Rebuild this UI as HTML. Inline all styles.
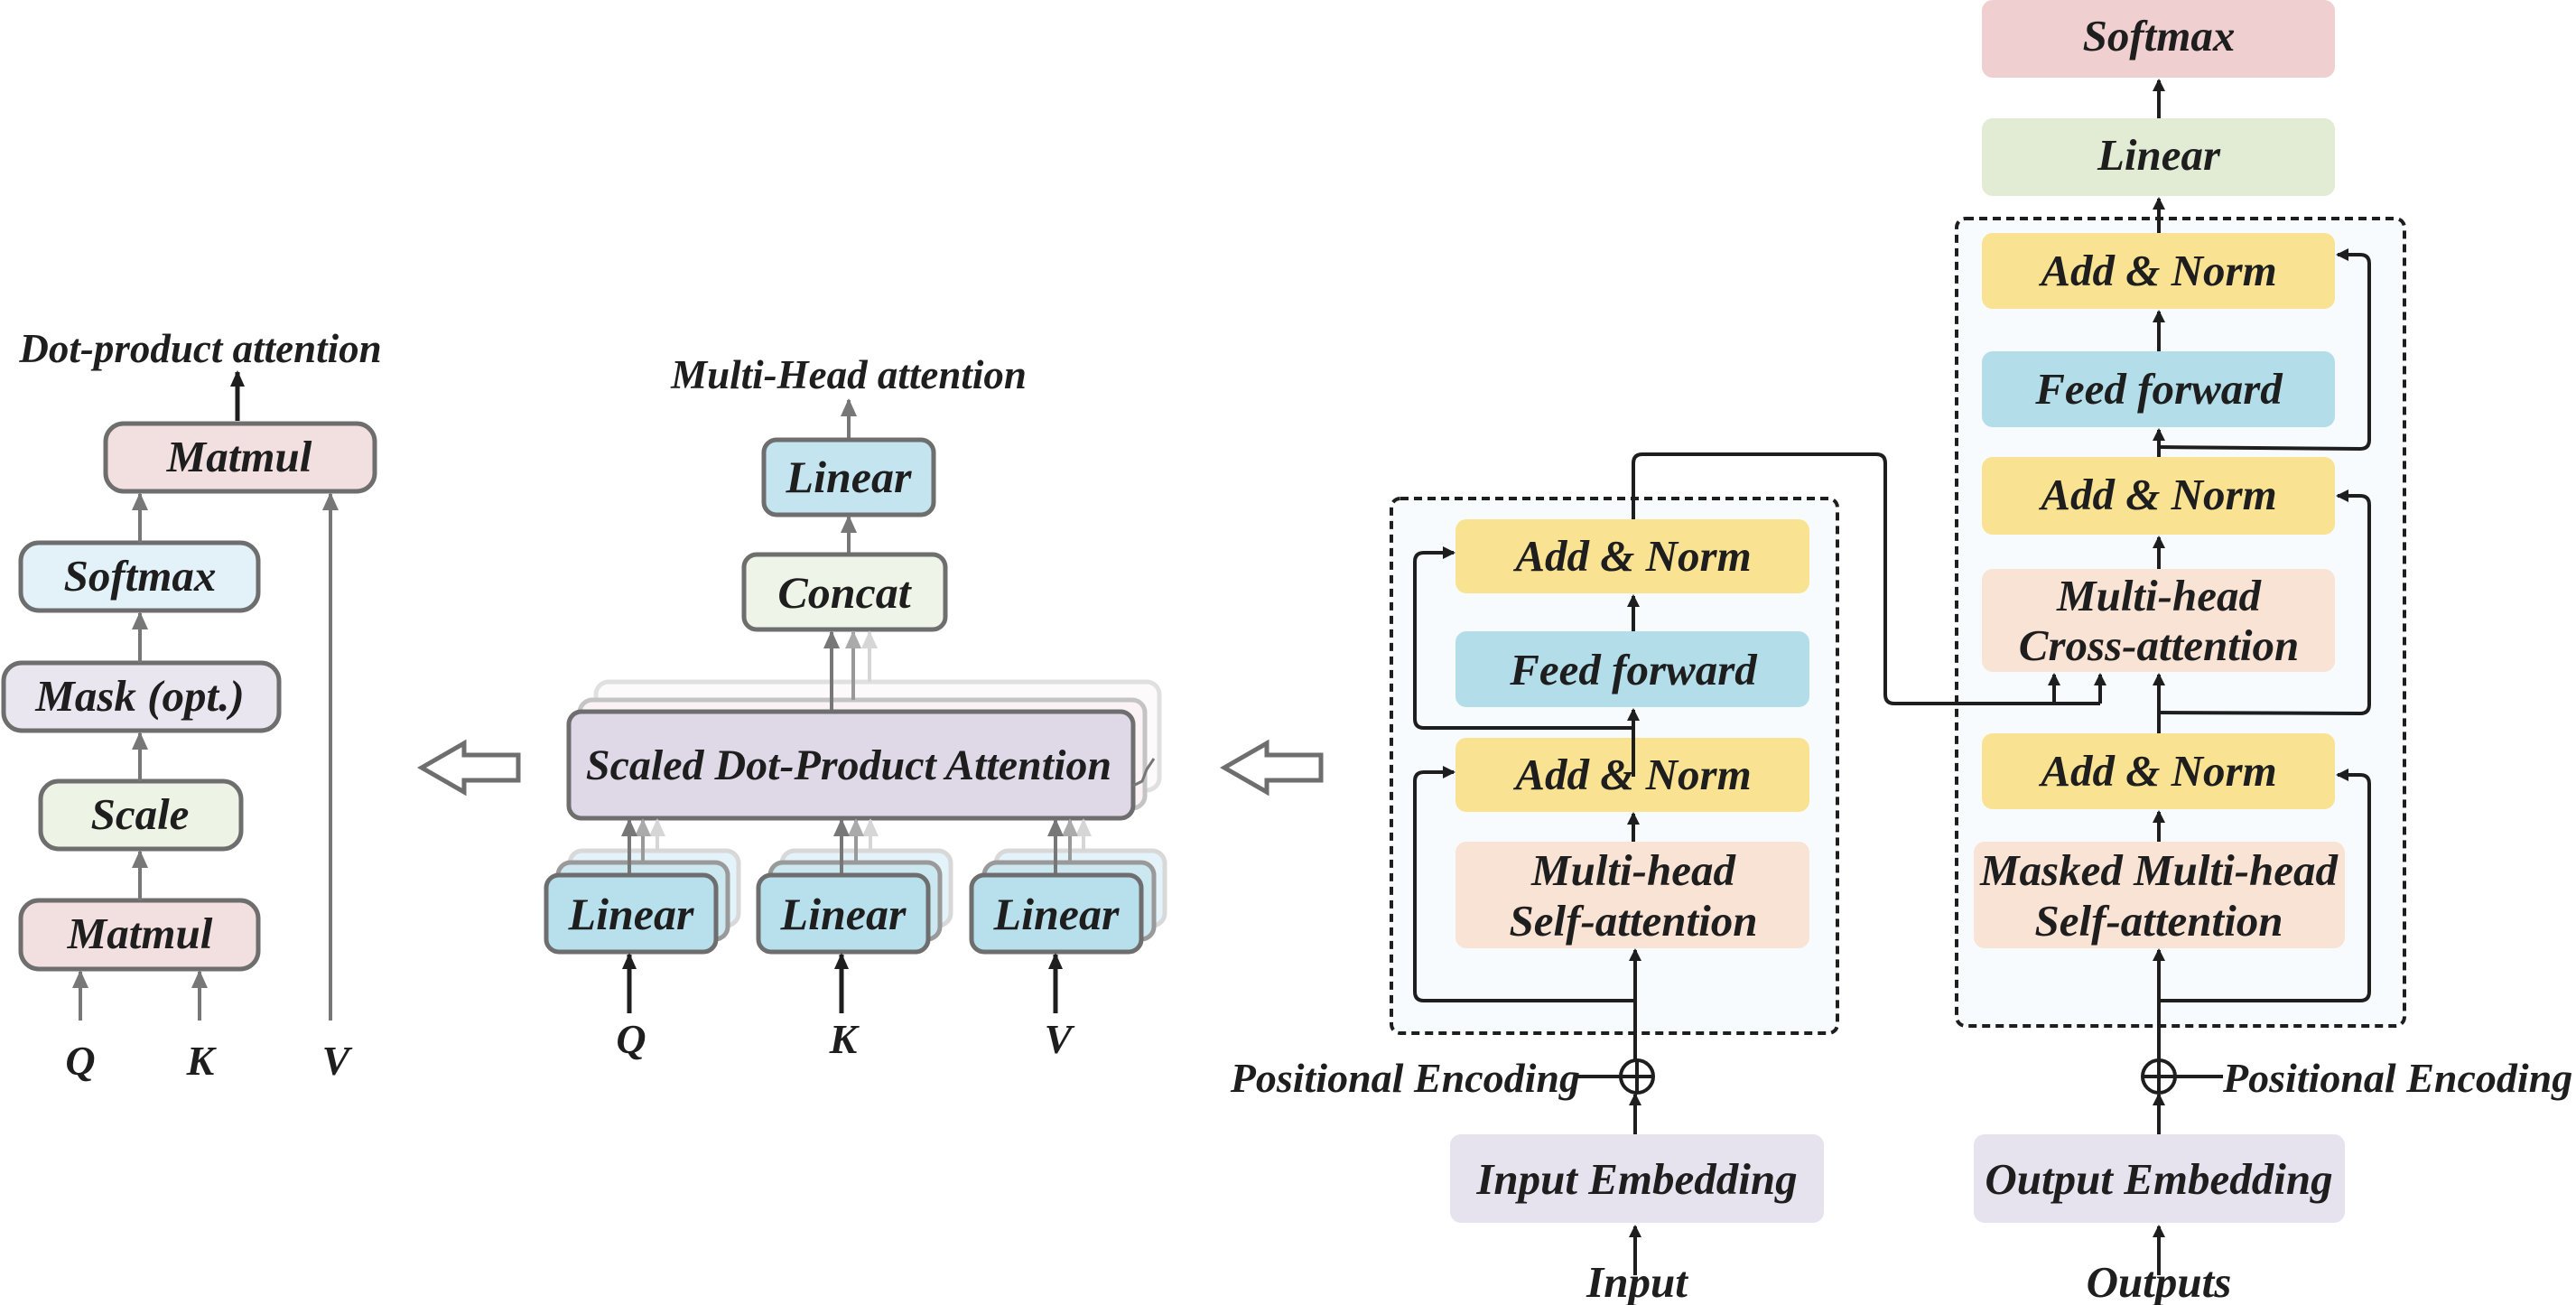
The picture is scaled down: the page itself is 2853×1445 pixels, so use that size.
<!DOCTYPE html>
<html><head><meta charset="utf-8"><style>
html,body{margin:0;padding:0;background:#fff;}
svg{display:block;}
text{font-family:"Liberation Serif",serif;font-weight:bold;font-style:italic;fill:#1e1e1e;text-anchor:middle;}
</style></head><body>
<svg width="2853" height="1445" viewBox="0 0 2853 1445" xmlns="http://www.w3.org/2000/svg">
<defs>
<marker id="ab" markerWidth="14" markerHeight="14" refX="12" refY="7" orient="auto" markerUnits="userSpaceOnUse" viewBox="0 0 14 14"><path d="M0,0 L14,7 L0,14 z" fill="#1e1e1e"/></marker>
<marker id="abk" markerWidth="18" markerHeight="18" refX="16" refY="9" orient="auto" markerUnits="userSpaceOnUse" viewBox="0 0 18 18"><path d="M0,1 L18,9 L0,17 z" fill="#1e1e1e"/></marker>
<marker id="ag" markerWidth="20" markerHeight="20" refX="18" refY="10" orient="auto" markerUnits="userSpaceOnUse" viewBox="0 0 20 20"><path d="M0,1 L20,10 L0,19 z" fill="#777"/></marker>
<marker id="agl" markerWidth="20" markerHeight="20" refX="18" refY="10" orient="auto" markerUnits="userSpaceOnUse" viewBox="0 0 20 20"><path d="M0,1 L20,10 L0,19 z" fill="#aaa"/></marker>
<marker id="agx" markerWidth="20" markerHeight="20" refX="18" refY="10" orient="auto" markerUnits="userSpaceOnUse" viewBox="0 0 20 20"><path d="M0,1 L20,10 L0,19 z" fill="#d6d6d6"/></marker>
</defs>

<!-- LEFT PANEL -->
<text x="222" y="401" font-size="45">Dot-product attention</text>
<line x1="263" y1="466" x2="263" y2="412" stroke="#1e1e1e" stroke-width="5" marker-end="url(#abk)"/>
<g stroke="#6e6e6e" stroke-width="5">
<rect x="117" y="469" width="298" height="75" rx="20" fill="#f2dfdf"/>
<rect x="23" y="601" width="263" height="75" rx="20" fill="#e3f2f9"/>
<rect x="4" y="734" width="305" height="75" rx="20" fill="#e9e6ef"/>
<rect x="45" y="865" width="222" height="75" rx="20" fill="#edf3e5"/>
<rect x="23" y="997" width="263" height="76" rx="20" fill="#f2dfdf"/>
</g>
<g stroke="#777" stroke-width="4" fill="none">
<line x1="155" y1="601" x2="155" y2="547" marker-end="url(#ag)"/>
<line x1="155" y1="734" x2="155" y2="679" marker-end="url(#ag)"/>
<line x1="155" y1="865" x2="155" y2="812" marker-end="url(#ag)"/>
<line x1="155" y1="997" x2="155" y2="943" marker-end="url(#ag)"/>
<line x1="89" y1="1130" x2="89" y2="1076" marker-end="url(#ag)"/>
<line x1="221" y1="1130" x2="221" y2="1076" marker-end="url(#ag)"/>
<line x1="366" y1="1130" x2="366" y2="547" marker-end="url(#ag)"/>
</g>
<text x="265" y="522" font-size="49">Matmul</text>
<text x="155" y="654" font-size="49">Softmax</text>
<text x="155" y="787" font-size="49">Mask (opt.)</text>
<text x="155" y="918" font-size="49">Scale</text>
<text x="155" y="1050" font-size="49">Matmul</text>
<text x="89" y="1190" font-size="46">Q</text>
<text x="222" y="1190" font-size="46">K</text>
<text x="372" y="1190" font-size="46">V</text>

<!-- hollow arrows -->
<path d="M467,850 L514,823 L514,836 L574,836 L574,864 L514,864 L514,877 Z" fill="#fff" stroke="#6e6e6e" stroke-width="5"/>
<path d="M1356,850 L1403,823 L1403,836 L1463,836 L1463,864 L1403,864 L1403,877 Z" fill="#fff" stroke="#6e6e6e" stroke-width="5"/>

<!-- MIDDLE PANEL -->
<text x="940" y="430" font-size="45">Multi-Head attention</text>
<line x1="940" y1="486" x2="940" y2="443" stroke="#777" stroke-width="4" marker-end="url(#ag)"/>
<rect x="846" y="487" width="188" height="83" rx="14" fill="#c4e4f0" stroke="#6e6e6e" stroke-width="5"/>
<text x="940" y="545" font-size="50">Linear</text>
<line x1="940" y1="613" x2="940" y2="572" stroke="#777" stroke-width="4" marker-end="url(#ag)"/>
<rect x="824" y="614" width="223" height="83" rx="14" fill="#eef4e7" stroke="#6e6e6e" stroke-width="5"/>
<text x="935" y="673" font-size="50">Concat</text>
<rect x="660" y="755" width="624" height="120" rx="14" fill="#fdfafb" stroke="#e0e0e0" stroke-width="5"/>
<rect x="642" y="775" width="626" height="120" rx="14" fill="#faf2f4" stroke="#c4c4c4" stroke-width="5"/>
<line x1="963" y1="755" x2="963" y2="700" stroke="#d6d6d6" stroke-width="4" marker-end="url(#agx)"/>
<line x1="945" y1="775" x2="945" y2="700" stroke="#999" stroke-width="4" marker-end="url(#agl)"/>
<line x1="921" y1="788" x2="921" y2="700" stroke="#777" stroke-width="4" marker-end="url(#ag)"/>
<rect x="630" y="788" width="625" height="118" rx="14" fill="#dfd9e7" stroke="#6e6e6e" stroke-width="5"/>
<path d="M1255,870 L1265,865 L1270,852 L1278,840" stroke="#777" stroke-width="3" fill="none"/>
<text x="940" y="863" font-size="48">Scaled Dot-Product Attention</text>
<g stroke-width="5">
<rect x="631" y="942" width="187" height="83" rx="14" fill="#e3f3f9" stroke="#d8d8d8"/>
<rect x="618" y="955" width="188" height="85" rx="14" fill="#cbe7f0" stroke="#999"/>
<rect x="866" y="942" width="187" height="83" rx="14" fill="#e3f3f9" stroke="#d8d8d8"/>
<rect x="853" y="955" width="188" height="85" rx="14" fill="#cbe7f0" stroke="#999"/>
<rect x="1103" y="942" width="187" height="83" rx="14" fill="#e3f3f9" stroke="#d8d8d8"/>
<rect x="1090" y="955" width="188" height="85" rx="14" fill="#cbe7f0" stroke="#999"/>
</g>
<g stroke-width="4">
<line x1="728" y1="942" x2="728" y2="908" stroke="#d6d6d6" marker-end="url(#agx)"/>
<line x1="712" y1="955" x2="712" y2="908" stroke="#999" marker-end="url(#agl)"/>
<line x1="697" y1="969" x2="697" y2="908" stroke="#777" marker-end="url(#ag)"/>
<line x1="964" y1="942" x2="964" y2="908" stroke="#d6d6d6" marker-end="url(#agx)"/>
<line x1="948" y1="955" x2="948" y2="908" stroke="#999" marker-end="url(#agl)"/>
<line x1="932" y1="969" x2="932" y2="908" stroke="#777" marker-end="url(#ag)"/>
<line x1="1200" y1="942" x2="1200" y2="908" stroke="#d6d6d6" marker-end="url(#agx)"/>
<line x1="1185" y1="955" x2="1185" y2="908" stroke="#999" marker-end="url(#agl)"/>
<line x1="1169" y1="969" x2="1169" y2="908" stroke="#777" marker-end="url(#ag)"/>
</g>
<g stroke="#6e6e6e" stroke-width="5" fill="#b8dfec">
<rect x="605" y="969" width="188" height="85" rx="14"/>
<rect x="840" y="969" width="188" height="85" rx="14"/>
<rect x="1076" y="969" width="188" height="85" rx="14"/>
</g>
<text x="699" y="1029" font-size="50">Linear</text>
<text x="934" y="1029" font-size="50">Linear</text>
<text x="1170" y="1029" font-size="50">Linear</text>
<g stroke-width="5">
<line x1="697" y1="1122" x2="697" y2="1057" stroke="#1e1e1e" marker-end="url(#abk)"/>
<line x1="932" y1="1122" x2="932" y2="1057" stroke="#1e1e1e" marker-end="url(#abk)"/>
<line x1="1169" y1="1122" x2="1169" y2="1057" stroke="#1e1e1e" marker-end="url(#abk)"/>
</g>
<text x="699" y="1166" font-size="46">Q</text>
<text x="934" y="1166" font-size="46">K</text>
<text x="1172" y="1166" font-size="46">V</text>

<!-- ENCODER / DECODER frames -->
<rect x="1541" y="552" width="494" height="592" rx="10" fill="#f7fbfd" stroke="#1e1e1e" stroke-width="4" stroke-dasharray="9,6"/>
<rect x="2167" y="242" width="496" height="894" rx="10" fill="#f7fbfd" stroke="#1e1e1e" stroke-width="4" stroke-dasharray="9,6"/>

<g>
<rect x="1612" y="575" width="392" height="82" rx="12" fill="#f9e291"/>
<rect x="1612" y="699" width="392" height="84" rx="12" fill="#b2dde9"/>
<rect x="1612" y="817" width="392" height="82" rx="12" fill="#f9e291"/>
<rect x="1612" y="932" width="392" height="118" rx="12" fill="#f9e3d4"/>
<rect x="1606" y="1256" width="414" height="98" rx="12" fill="#e7e3ee"/>
<rect x="2195" y="0" width="391" height="86" rx="12" fill="#efcfcf"/>
<rect x="2195" y="131" width="391" height="86" rx="12" fill="#e2ebd3"/>
<rect x="2195" y="258" width="391" height="84" rx="12" fill="#f9e291"/>
<rect x="2195" y="389" width="391" height="84" rx="12" fill="#b2dde9"/>
<rect x="2195" y="506" width="391" height="86" rx="12" fill="#f9e291"/>
<rect x="2195" y="630" width="391" height="114" rx="12" fill="#f9e3d4"/>
<rect x="2195" y="812" width="391" height="84" rx="12" fill="#f9e291"/>
<rect x="2186" y="932" width="411" height="118" rx="12" fill="#f9e3d4"/>
<rect x="2186" y="1256" width="411" height="98" rx="12" fill="#e7e3ee"/>
</g>

<g stroke="#1e1e1e" stroke-width="4" fill="none">
<line x1="1811" y1="1412" x2="1811" y2="1358" marker-end="url(#ab)"/>
<line x1="1811" y1="1256" x2="1811" y2="1212" marker-end="url(#ab)"/>
<line x1="1811" y1="1174" x2="1811" y2="1052" marker-end="url(#ab)"/>
<line x1="1809" y1="932" x2="1809" y2="901" marker-end="url(#ab)"/>
<line x1="1809" y1="860" x2="1809" y2="786" marker-end="url(#ab)"/>
<line x1="1809" y1="699" x2="1809" y2="660" marker-end="url(#ab)"/>
<path d="M1811,1108 L1577,1108 Q1567,1108 1567,1098 L1567,865 Q1567,855 1577,855 L1610,855" marker-end="url(#ab)"/>
<path d="M1809,806 L1577,806 Q1567,806 1567,796 L1567,622 Q1567,612 1577,612 L1610,612" marker-end="url(#ab)"/>
<circle cx="1813" cy="1192" r="18"/>
<line x1="1795" y1="1192" x2="1831" y2="1192"/>
<line x1="1813" y1="1174" x2="1813" y2="1210"/>
<line x1="1745" y1="1192" x2="1795" y2="1192"/>
<path d="M1809,575 L1809,513 Q1809,503 1819,503 L2078,503 Q2088,503 2088,513 L2088,769 Q2088,779 2098,779 L2326,779"/>
<line x1="2275" y1="779" x2="2275" y2="747" marker-end="url(#ab)"/>
<line x1="2326" y1="779" x2="2326" y2="747" marker-end="url(#ab)"/>
<line x1="2391" y1="1412" x2="2391" y2="1358" marker-end="url(#ab)"/>
<line x1="2391" y1="1256" x2="2391" y2="1212" marker-end="url(#ab)"/>
<line x1="2391" y1="1174" x2="2391" y2="1052" marker-end="url(#ab)"/>
<line x1="2391" y1="932" x2="2391" y2="899" marker-end="url(#ab)"/>
<line x1="2391" y1="812" x2="2391" y2="747" marker-end="url(#ab)"/>
<line x1="2391" y1="630" x2="2391" y2="595" marker-end="url(#ab)"/>
<line x1="2391" y1="506" x2="2391" y2="476" marker-end="url(#ab)"/>
<line x1="2391" y1="389" x2="2391" y2="345" marker-end="url(#ab)"/>
<line x1="2391" y1="258" x2="2391" y2="220" marker-end="url(#ab)"/>
<line x1="2391" y1="131" x2="2391" y2="89" marker-end="url(#ab)"/>
<path d="M2391,1108 L2614,1108 Q2624,1108 2624,1098 L2624,868 Q2624,858 2614,858 L2589,858" marker-end="url(#ab)"/>
<path d="M2391,789 L2614,790 Q2624,790 2624,780 L2624,559 Q2624,549 2614,549 L2589,549" marker-end="url(#ab)"/>
<path d="M2391,495 L2614,497 Q2624,497 2624,487 L2624,292 Q2624,282 2614,282 L2589,282" marker-end="url(#ab)"/>
<circle cx="2391" cy="1192" r="18"/>
<line x1="2373" y1="1192" x2="2409" y2="1192"/>
<line x1="2391" y1="1174" x2="2391" y2="1210"/>
<line x1="2409" y1="1192" x2="2462" y2="1192"/>
</g>

<g font-size="49">
<text x="1809" y="632">Add &amp; Norm</text>
<text x="1809" y="758">Feed forward</text>
<text x="1809" y="874">Add &amp; Norm</text>
<text x="1809" y="980">Multi-head</text>
<text x="1809" y="1036">Self-attention</text>
<text x="1813" y="1322">Input Embedding</text>
<text x="1813" y="1436">Input</text>
<text x="1750" y="1209" font-size="46" style="text-anchor:end">Positional Encoding</text>
<text x="2391" y="56">Softmax</text>
<text x="2391" y="188">Linear</text>
<text x="2391" y="316">Add &amp; Norm</text>
<text x="2391" y="447">Feed forward</text>
<text x="2391" y="564">Add &amp; Norm</text>
<text x="2391" y="676">Multi-head</text>
<text x="2391" y="731">Cross-attention</text>
<text x="2391" y="870">Add &amp; Norm</text>
<text x="2391" y="980">Masked Multi-head</text>
<text x="2391" y="1036">Self-attention</text>
<text x="2391" y="1322">Output Embedding</text>
<text x="2391" y="1436">Outputs</text>
<text x="2462" y="1209" font-size="46" style="text-anchor:start">Positional Encoding</text>
</g>
</svg>
</body></html>
